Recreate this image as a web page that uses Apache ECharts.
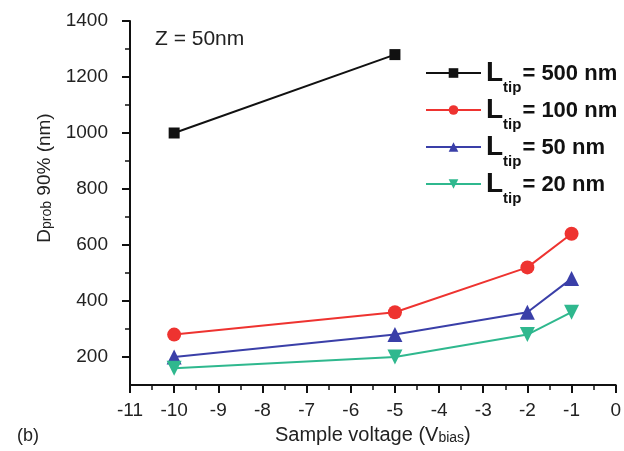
<!DOCTYPE html>
<html>
<head>
<meta charset="utf-8">
<script src="https://cdn.jsdelivr.net/npm/echarts@6/dist/echarts.min.js"></script>
<style>
html,body{margin:0;padding:0;background:#fff;}
#chart{width:624px;height:451px;}
</style>
</head>
<body>
<div id="chart"></div>
<script>
// Data
const xVoltage = [-10, -5, -2, -1];
const tip500 = [1000, 1280];
const tip100 = [280, 360, 520, 640];
const tip50 = [200, 280, 360, 480];
const tip20 = [160, 200, 280, 360];
const seriesNames = ['500 nm', '100 nm', '50 nm', '20 nm'];
const yMajorTicks = [200, 400, 600, 800, 1000, 1200, 1400];
const yMinorTicks = [300, 500, 700, 900, 1100, 1300];

const FONT = '"Liberation Sans", Arial, sans-serif';
const colors = ['#111111', '#ee3330', '#3a3fa8', '#2fb88e'];

function pairs(xs, ys) { return ys.map((v, i) => [xs[i], v]); }

const chart = echarts.init(document.getElementById('chart'));
const legendRich = {
  L: {fontSize: 28, fontWeight: 'bold', color: '#111', fontFamily: FONT, padding: [8, 0, 8, 0], verticalAlign: 'bottom'},
  sub: {fontSize: 15, fontWeight: 'bold', color: '#111', fontFamily: FONT, padding: [0, 1, 0, 0], verticalAlign: 'bottom'},
  eq: {fontSize: 22, fontWeight: 'bold', color: '#111', fontFamily: FONT, padding: [0, 0, 10, 0], verticalAlign: 'bottom'}
};

const markers = [
  {symbol: 'rect', size: 11, rotate: 0},
  {symbol: 'circle', size: 14, rotate: 0},
  {symbol: 'triangle', size: 15, rotate: 0},
  {symbol: 'triangle', size: 15, rotate: 180}
];
const dataSets = [pairs(xVoltage, tip500), pairs(xVoltage, tip100), pairs(xVoltage, tip50), pairs(xVoltage, tip20)];
const gridBox = {left: 130, right: 3, top: 21, bottom: 66, containLabel: false};
const nameRich = {sub: {fontSize: 14, color: '#222', fontFamily: FONT, verticalAlign: 'bottom'}};

const option = {
  animation: false,
  backgroundColor: '#fff',
  textStyle: {fontFamily: FONT},
  grid: [Object.assign({}, gridBox), Object.assign({}, gridBox)],
  xAxis: [{
    type: 'value', min: -11, max: 0, interval: 1, gridIndex: 0,
    axisLine: {show: true, onZero: false, lineStyle: {color: '#111', width: 2}},
    axisTick: {show: true, inside: false, length: 8, lineStyle: {color: '#111', width: 2}},
    minorTick: {show: true, splitNumber: 2, length: 5, lineStyle: {color: '#111', width: 1.5}},
    splitLine: {show: false},
    axisLabel: {fontSize: 19, color: '#222', margin: 16, fontFamily: FONT},
    name: 'Sample voltage (V{sub|bias})',
    nameLocation: 'middle', nameGap: 40,
    nameTextStyle: {fontSize: 20, color: '#222', fontFamily: FONT, rich: nameRich}
  }, {
    type: 'value', min: -11, max: 0, gridIndex: 1, show: false
  }],
  yAxis: [{
    type: 'value', min: 100, max: 1400, gridIndex: 0, position: 'left',
    axisLine: {show: true, onZero: false, lineStyle: {color: '#111', width: 2}},
    axisTick: {show: true, inside: false, length: 8, customValues: yMajorTicks, lineStyle: {color: '#111', width: 2}},
    splitLine: {show: false},
    axisLabel: {fontSize: 19, color: '#222', margin: 22, customValues: yMajorTicks, fontFamily: FONT,
      formatter: v => String(v)},
    name: 'D{sub|prob} 90% (nm)',
    nameLocation: 'middle', nameGap: 76, nameRotate: 90,
    nameTextStyle: {fontSize: 19, color: '#222', fontFamily: FONT, padding: [0, 0, 0, 50], rich: nameRich}
  }, {
    type: 'value', min: 100, max: 1400, gridIndex: 1, position: 'left',
    axisLine: {show: false, onZero: false},
    axisTick: {show: true, inside: false, length: 5, customValues: yMinorTicks, lineStyle: {color: '#111', width: 1.5}},
    splitLine: {show: false},
    axisLabel: {show: false}
  }],
  legend: {
    orient: 'vertical', left: 420, top: 54, itemWidth: 55, itemHeight: 12, itemGap: 1,
    data: seriesNames,
    formatter: name => '{L|L}{sub|tip}{eq|= ' + name + '}',
    textStyle: {rich: legendRich}
  },
  graphic: [
    {type: 'text', left: 155, top: 29, style: {text: 'Z = 50nm', fontSize: 21, fill: '#222', fontFamily: FONT}},
    {type: 'text', left: 17, top: 427, style: {text: '(b)', fontSize: 18, fill: '#222', fontFamily: FONT}}
  ],
  series: dataSets.map((d, i) => ({
    name: seriesNames[i], type: 'line', data: d, xAxisIndex: 0, yAxisIndex: 0,
    symbol: markers[i].symbol, symbolSize: markers[i].size, symbolRotate: markers[i].rotate,
    showSymbol: true,
    lineStyle: {color: colors[i], width: 2},
    itemStyle: {color: colors[i], borderWidth: 0}
  }))
};
chart.setOption(option);
</script>
</body>
</html>
